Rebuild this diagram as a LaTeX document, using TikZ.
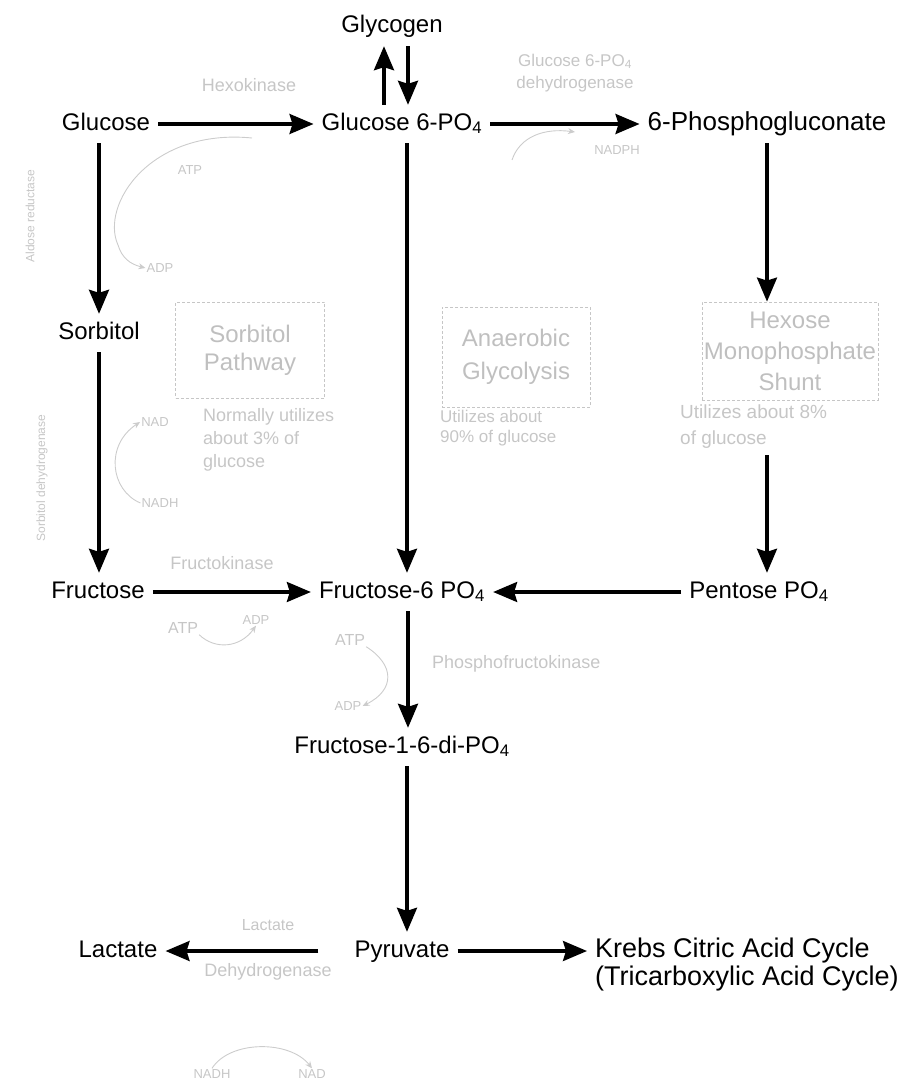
\documentclass[tikz,border=0pt]{standalone}
\usepackage{fontspec}
\setmainfont{Liberation Sans}
\usetikzlibrary{arrows.meta}

\tikzset{
    compound/.style={font=\fontsize{24}{28}\selectfont, text height=17pt, text depth=5pt, inner xsep=8pt, inner ysep=8pt},
    flow/.style={line width=3.2pt, -{Stealth[length=24pt,width=20pt,inset=3pt]}},
    enzyme/.style={gray!45, font=\fontsize{18}{22}\selectfont, inner sep=0pt, align=center},
    pathbox/.style={draw=gray!45, densely dashed, line width=0.8pt, inner sep=0pt, text=gray!50, font=\fontsize{24}{30}\selectfont, align=center},
    note/.style={gray!45, font=\fontsize{18}{23}\selectfont, align=left, anchor=north west, inner sep=0pt},
    cofactor/.style={gray!40, line width=0.9pt, -{Stealth[length=7pt,width=6pt]}},
    cofac/.style={gray!45, font=\fontsize{13}{15}\selectfont, inner sep=1pt}
}

\begin{document}
\begin{tikzpicture}[x=1pt, y=-1pt]
    \useasboundingbox (0,0) rectangle (918,1081);

    % Compounds
    \node[compound] (glycogen) at (392,27) {Glycogen};
    \node[compound] (glucose) at (106,124) {Glucose};
    \node[compound] (g6p) at (402,124) {Glucose 6-PO\textsubscript{4}};
    \node[compound, font=\fontsize{26}{30}\selectfont] (phospho) at (767,124) {6-Phosphogluconate};
    \node[compound] (sorbitol) at (99,333) {Sorbitol};
    \node[compound] (fructose) at (98,592) {Fructose};
    \node[compound] (f6p) at (402,592) {Fructose-6 PO\textsubscript{4}};
    \node[compound] (pentose) at (759,592) {Pentose PO\textsubscript{4}};
    \node[compound] (f16dp) at (402,747) {Fructose-1-6-di-PO\textsubscript{4}};
    \node[compound] (pyruvate) at (402,951) {Pyruvate};
    \node[compound] (lactate) at (118,951) {Lactate};
    \node[font=\fontsize{27}{28}\selectfont, align=left, anchor=west, inner sep=8pt] (krebs) at (587,965)
        {Krebs Citric Acid Cycle\\(Tricarboxylic Acid Cycle)};

    % Pathway boxes and their notes (faint)
    \node[pathbox, minimum width=149pt, minimum height=96pt, font=\fontsize{24}{28}\selectfont] (sorbbox) at (250,350) {Sorbitol\\Pathway};
    \node[note] (sorbnote) at (203,408) {Normally utilizes\\about 3\% of\\glucose};
    \node[pathbox, minimum width=148pt, minimum height=100pt, font=\fontsize{24}{33}\selectfont] (anaebox) at (516,357) {Anaerobic\\Glycolysis};
    \node[note, font=\fontsize{17}{20}\selectfont] (anaenote) at (440,410) {Utilizes about\\90\% of glucose};
    \node[pathbox, minimum width=176pt, minimum height=98pt, font=\fontsize{24}{31}\selectfont] (hmsbox) at (790,351) {Hexose\\Monophosphate\\Shunt};
    \node[note, font=\fontsize{19}{26}\selectfont] (hmsnote) at (680,405) {Utilizes about 8\%\\of glucose};

    % Main flow
    \draw[flow] (glucose) -- (g6p);
    \draw[flow] (g6p) -- (phospho);
    \draw[flow] ([xshift=-18pt]g6p.north) -- ([xshift=-18pt]g6p.north |- glycogen.south);
    \draw[flow] ([xshift=6pt]g6p.north |- glycogen.south) -- ([xshift=6pt]g6p.north);
    \draw[flow] (glucose.south -| sorbitol.north) -- (sorbitol.north);
    \draw[flow] (sorbitol.south) -- (sorbitol.south |- fructose.north);
    \draw[flow] ([xshift=5pt]g6p.south) -- ([xshift=5pt]f6p.north);
    \draw[flow] (phospho.south) -- (phospho.south |- hmsbox.north);
    \draw[flow] ([yshift=-6pt]phospho.south |- hmsnote.south) -- (phospho.south |- pentose.north);
    \draw[flow] (fructose) -- (f6p);
    \draw[flow] (pentose) -- (f6p);
    \draw[flow] ([xshift=6pt]f6p.south) -- ([xshift=6pt]f6p.south |- f16dp.north);
    \draw[flow] ([xshift=5pt]f16dp.south) -- ([xshift=5pt]f16dp.south |- pyruvate.north);
    \draw[flow] ([xshift=-28pt]pyruvate.west) -- (lactate.east);
    \draw[flow] (pyruvate.east) -- (pyruvate.east -| krebs.west);

    % Enzymes (faint)
    \node[enzyme] (hexo) at (249,85) {Hexokinase};
    \node[enzyme, font=\fontsize{17}{22}\selectfont] (gpd) at (575,73) {Glucose 6-PO\textsubscript{4}\\dehydrogenase};
    \node[enzyme] (fructo) at (222,563) {Fructokinase};
    \node[enzyme, anchor=west] (pfk) at (432,664) {Phosphofructokinase};
    \node[enzyme, font=\fontsize{16}{20}\selectfont] (ldh1) at (268,925) {Lactate};
    \node[enzyme] (ldh2) at (268,972) {Dehydrogenase};
    \node[enzyme, font=\fontsize{12}{14}\selectfont, rotate=90] (aldose) at (30,216) {Aldose reductase};
    \node[enzyme, font=\fontsize{12}{14}\selectfont, rotate=90] (sdh) at (42,478) {Sorbitol dehydrogenase};

    % Cofactor loops (faint)
    \node[cofac] (atp1) at (190,170) {ATP};
    \node[cofac] (adp1) at (160,268) {ADP};
    \draw[cofactor] (252,138) .. controls (150,128) and (100,205) .. (118,245) .. controls (122,258) and (130,264) .. (adp1.west);
    \node[cofac] (nad1) at (155,422) {NAD};
    \node[cofac] (nadh1) at (160,503) {NADH};
    \draw[cofactor] (nadh1.west) .. controls (110,490) and (105,445) .. (nad1.west);
    \node[cofac] (nadph) at (617,150) {NADPH};
    \draw[cofactor] (512,160) .. controls (520,136) and (545,128) .. (575,132);
    \node[cofac, font=\fontsize{16}{18}\selectfont] (atp2) at (183,628) {ATP};
    \node[cofac] (adp2) at (256,620) {ADP};
    \draw[cofactor] (atp2.south east) .. controls (215,650) and (240,648) .. (adp2.south);
    \node[cofac, font=\fontsize{16}{18}\selectfont] (atp3) at (350,640) {ATP};
    \node[cofac] (adp3) at (348,706) {ADP};
    \draw[cofactor] (atp3.south east) .. controls (395,665) and (395,690) .. (adp3.east);
    \node[cofac] (nadh2) at (212,1074) {NADH};
    \node[cofac] (nad2) at (312,1074) {NAD};
    \draw[cofactor] (nadh2.north) .. controls (230,1040) and (290,1040) .. (nad2.north);
\end{tikzpicture}
\end{document}
